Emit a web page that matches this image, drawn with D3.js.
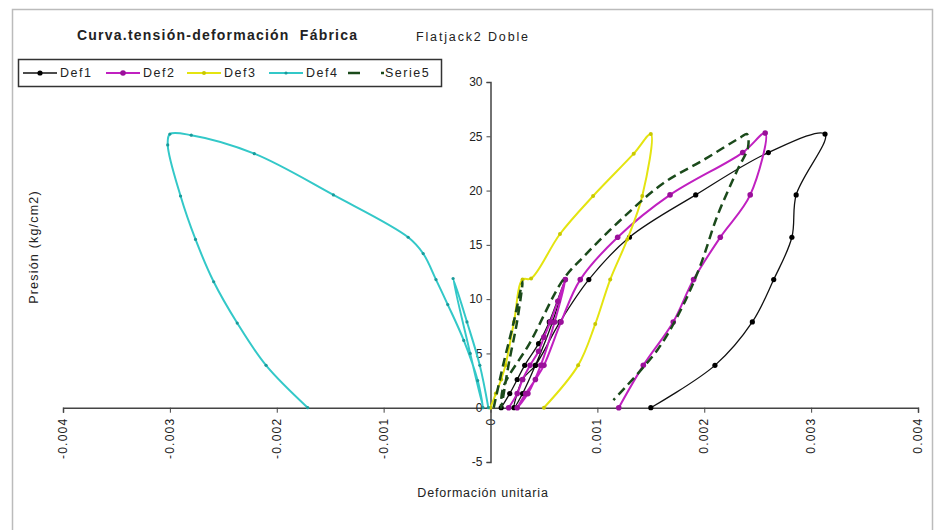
<!DOCTYPE html>
<html>
<head>
<meta charset="utf-8">
<script src="https://cdn.jsdelivr.net/npm/d3@7"></script>
<style>
  body { margin: 0; background: #fff; }
  svg text { font-family: "Liberation Sans", Arial, sans-serif; fill: #222; }
</style>
</head>
<body>
<svg id="chart" width="935" height="530"></svg>
<script>
// Strain / stress pairs: [deformación unitaria, presión kg/cm2]
const def1 = [
  [0.0001, 0], [0.00018, 1.3], [0.00025, 2.6], [0.00032, 3.9], [0.00045, 5.9], [0.00055, 7.9],
  [0.0007, 11.8], [0.00058, 7.9], [0.00042, 3.9], [0.0003, 1.3], [0.00022, 0],
  [0.0003, 2.6], [0.00042, 3.9], [0.00065, 7.9], [0.00092, 11.8], [0.0013, 15.7], [0.00192, 19.6],
  [0.0026, 23.5], [0.00313, 25.2], [0.00286, 19.6], [0.00282, 15.7], [0.00265, 11.8],
  [0.00245, 7.9], [0.0021, 3.9], [0.0015, 0]
];
const def2 = [
  [0.00017, 0], [0.00025, 1.3], [0.0003, 2.6], [0.00037, 3.9], [0.00045, 5.2], [0.0005, 6.5],
  [0.00056, 7.9], [0.00063, 9.8], [0.0007, 11.8], [0.0006, 7.9], [0.00047, 3.9], [0.00035, 1.3],
  [0.00025, 0], [0.00033, 1.3], [0.00042, 2.6], [0.0005, 3.9], [0.00066, 7.9], [0.00084, 11.8],
  [0.00119, 15.7], [0.00168, 19.6], [0.00236, 23.5], [0.00257, 25.3], [0.00243, 19.6],
  [0.00215, 15.7], [0.0019, 11.8], [0.00171, 7.9], [0.00143, 3.9], [0.0012, 0]
];
const def3 = [
  [0, 0], [0.00005, 1.3], [0.0001, 2.6], [0.00014, 3.9], [0.00022, 7.9], [0.0003, 11.8],
  [0.00038, 11.9], [0.00065, 16], [0.00096, 19.5], [0.00134, 23.4], [0.0015, 25.2],
  [0.00142, 19.5], [0.00128, 15.5], [0.00112, 11.8], [0.00098, 7.7], [0.00082, 3.9], [0.0005, 0]
];
const def4 = [
  [-0.00002, 0], [-0.0001, 3.9], [-0.00022, 7.9], [-0.00035, 11.9], [-0.00019, 5], [-0.00007, 0],
  [-0.00012, 2.5], [-0.00025, 6.2], [-0.0004, 9.5], [-0.00051, 11.8], [-0.00063, 14.2],
  [-0.00077, 15.7], [-0.00147, 19.6], [-0.00221, 23.4], [-0.0028, 25.1], [-0.003, 25.2],
  [-0.00302, 24.2], [-0.0029, 19.5], [-0.00276, 15.5], [-0.00259, 11.6], [-0.00237, 7.8],
  [-0.0021, 3.9], [-0.00171, 0]
];
const serie5 = [
  [0.00003, 0], [0.00012, 4], [0.00022, 8], [0.0003, 11.6], [0.00025, 8], [0.00017, 4], [0.0001, 0],
  [0.00012, 1.9], [0.00037, 6], [0.00068, 11.8], [0.00089, 14.1], [0.00124, 17.5], [0.00162, 20.7],
  [0.00199, 22.8], [0.00234, 24.9], [0.0024, 25.2], [0.00241, 24], [0.00231, 21.9], [0.00212, 17.6],
  [0.00196, 13], [0.00178, 9], [0.00156, 5.3], [0.00115, 0.7]
];

const xTicks = [-0.004, -0.003, -0.002, -0.001, 0, 0.001, 0.002, 0.003, 0.004];
const yTicks = [-5, 0, 5, 10, 15, 20, 25, 30];

const seriesList = [
  { name: 'Def1', data: def1, color: '#111111', width: 1.3, marker: 2.6, markerColor: '#000' },
  { name: 'Def2', data: def2, color: '#c020c0', width: 2, marker: 2.8, markerColor: '#9a109a' },
  { name: 'Def3', data: def3, color: '#e4e410', width: 2, marker: 2, markerColor: '#c8c800' },
  { name: 'Def4', data: def4, color: '#33c8c8', width: 2, marker: 1.6, markerColor: '#1a9a9a' },
  { name: 'Serie5', data: serie5, color: '#1b4a1b', width: 2.5, dash: '9,5', marker: 0 }
];

const svg = d3.select('#chart');

// outer frame
svg.append('rect')
  .attr('x', 12.5).attr('y', 9.5)
  .attr('width', 920).attr('height', 530)
  .attr('fill', '#fff')
  .attr('stroke', '#bbb')
  .attr('stroke-width', 1.5);

const x = d3.scaleLinear().domain([-0.004, 0.004]).range([63, 918]);
const y = d3.scaleLinear().domain([-5, 30]).range([462, 82]);

// X axis at y = 0
const xAxis = svg.append('g')
  .attr('transform', `translate(0,${y(0)})`)
  .call(d3.axisBottom(x).tickValues(xTicks).tickSize(5).tickFormat(''));
xAxis.select('.domain').attr('stroke', '#444').attr('stroke-width', 1.5);
xAxis.selectAll('.tick line').attr('stroke', '#444');

svg.append('g').selectAll('text')
  .data(xTicks)
  .enter()
  .append('text')
  .attr('transform', d => `translate(${x(d)},${y(0) + 10}) rotate(-90)`)
  .attr('text-anchor', 'end')
  .attr('dominant-baseline', 'central')
  .attr('font-size', 12)
  .attr('letter-spacing', 1.2)
  .attr('fill', '#333')
  .text(d => d === 0 ? '0' : d3.format('.3f')(d).replace('−', '-'));

// Y axis at x = 0
const yAxis = svg.append('g')
  .attr('transform', `translate(${x(0)},0)`)
  .call(d3.axisLeft(y).tickValues(yTicks).tickSize(4).tickFormat(d => d));
yAxis.select('.domain').attr('stroke', '#444').attr('stroke-width', 1.5);
yAxis.selectAll('.tick line').attr('stroke', '#444');
yAxis.selectAll('.tick text')
  .attr('font-size', 12)
  .attr('fill', '#333')
  .attr('x', -8)
  .style('font-family', '"Liberation Sans", Arial, sans-serif')
  .text(d => String(d).replace('−', '-'));

// series - smoothed like the spreadsheet lines
const line = d3.line()
  .x(d => x(d[0]))
  .y(d => y(d[1]))
  .curve(d3.curveCatmullRom.alpha(0.5));

seriesList.forEach(s => {
  svg.append('path')
    .datum(s.data)
    .attr('d', line)
    .attr('fill', 'none')
    .attr('stroke', s.color)
    .attr('stroke-width', s.width)
    .attr('stroke-dasharray', s.dash || null)
    .attr('stroke-linejoin', 'round');

  if (s.marker > 0) {
    svg.append('g').selectAll('circle')
      .data(s.data)
      .enter()
      .append('circle')
      .attr('cx', d => x(d[0]))
      .attr('cy', d => y(d[1]))
      .attr('r', s.marker)
      .attr('fill', s.markerColor);
  }
});

// titles
svg.append('text')
  .attr('x', 77).attr('y', 40)
  .attr('font-size', 14)
  .attr('font-weight', 'bold')
  .attr('fill', '#111')
  .attr('textLength', 280)
  .style('white-space', 'pre')
  .text('Curva.tensión-deformación  Fábrica');

svg.append('text')
  .attr('x', 416).attr('y', 41)
  .attr('font-size', 12.5)
  .attr('fill', '#333')
  .attr('textLength', 112)
  .text('Flatjack2 Doble');

svg.append('text')
  .attr('x', 483).attr('y', 497)
  .attr('text-anchor', 'middle')
  .attr('font-size', 12.5)
  .attr('letter-spacing', 0.8)
  .attr('fill', '#333')
  .text('Deformación unitaria');

svg.append('text')
  .attr('transform', 'translate(38,247) rotate(-90)')
  .attr('text-anchor', 'middle')
  .attr('font-size', 12.5)
  .attr('letter-spacing', 1.2)
  .attr('fill', '#333')
  .text('Presión (kg/cm2)');

// legend
const legend = svg.append('g');
legend.append('rect')
  .attr('x', 18.5).attr('y', 59.5)
  .attr('width', 423).attr('height', 27)
  .attr('fill', '#fff')
  .attr('stroke', '#333')
  .attr('stroke-width', 1.5);

const legendX = [23, 106, 187, 269, 348];
seriesList.forEach((s, i) => {
  const lx = legendX[i];
  const ly = 73;
  const len = s.dash ? 12 : 34;
  legend.append('line')
    .attr('x1', lx).attr('x2', lx + len)
    .attr('y1', ly).attr('y2', ly)
    .attr('stroke', s.color)
    .attr('stroke-width', s.dash ? 2.5 : s.width);
  if (s.dash) {
    legend.append('line')
      .attr('x1', lx + 33).attr('x2', lx + 36)
      .attr('y1', ly).attr('y2', ly)
      .attr('stroke', s.color)
      .attr('stroke-width', 2.5);
  }
  if (s.marker > 0) {
    legend.append('circle')
      .attr('cx', lx + len / 2).attr('cy', ly)
      .attr('r', s.marker)
      .attr('fill', s.markerColor);
  }
  legend.append('text')
    .attr('x', lx + 37).attr('y', ly)
    .attr('dominant-baseline', 'central')
    .attr('font-size', 12.5)
    .attr('letter-spacing', 1.5)
    .attr('fill', '#222')
    .text(s.name);
});
</script>
</body>
</html>
